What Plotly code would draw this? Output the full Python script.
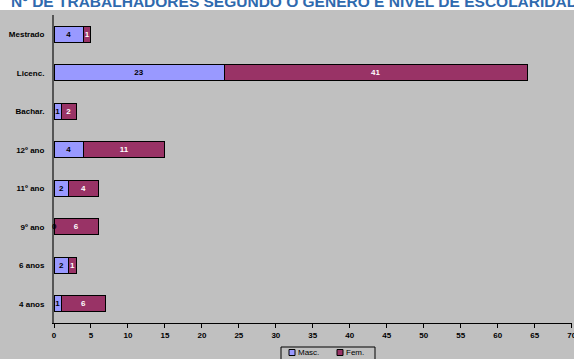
import plotly.graph_objects as go

# Education levels, listed bottom to top
levels = ["4 anos", "6 anos", "9º ano", "11º ano", "12º ano", "Bachar.", "Licenc.", "Mestrado"]
masc = [1, 2, 0, 2, 4, 1, 23, 4]
fem = [6, 1, 6, 4, 11, 2, 41, 1]
x_ticks = list(range(0, 75, 5))
series_names = ["Masc.", "Fem."]
series_colors = ["#9999FF", "#993366"]
label_colors = ["#000000", "#FFFFFF"]

FONT = "Liberation Sans, Arial, sans-serif"
W, H = 574, 359
ML, MR, MT, MB = 54, 2, 15, 36
PW, PH = W - ML - MR, H - MT - MB


def px_x(p):
    return (p - ML) / PW


def px_y(p):
    return (H - MB - p) / PH


fig = go.Figure()
for name, vals, col, tcol in zip(series_names, [masc, fem], series_colors, label_colors):
    fig.add_trace(go.Bar(
        y=levels, x=vals, orientation="h", name=name, showlegend=False,
        marker=dict(color=col, line=dict(color="#000000", width=1)),
        text=[str(v) if v else "" for v in vals], textposition="inside",
        insidetextanchor="middle", textangle=0, constraintext="none",
        textfont=dict(family=FONT, size=8, color=tcol, weight="bold"),
    ))

# zero-valued bars still get their label, sitting on the axis
for lvl, v in zip(levels, masc):
    if v == 0:
        fig.add_annotation(x=0, y=lvl, text=str(v), showarrow=False,
                           font=dict(family=FONT, size=8, color="#000000", weight="bold"))

fig.add_annotation(
    xref="paper", yref="paper", x=px_x(9), y=px_y(9), xanchor="left", yanchor="bottom",
    text="<b>Nº DE TRABALHADORES SEGUNDO O GÉNERO E NÍVEL DE ESCOLARIDADE</b>",
    showarrow=False, font=dict(family=FONT, size=15.5, color="#2F6AAE"),
    yshift=-3,
)

# grey chart area beneath the title strip
fig.add_shape(type="rect", xref="paper", yref="paper", layer="below",
              x0=px_x(0), x1=px_x(W), y0=px_y(H), y1=px_y(10),
              fillcolor="#C0C0C0", line=dict(width=0))

# compact legend box below the axis
fig.add_shape(type="rect", xref="paper", yref="paper", layer="above",
              x0=px_x(281), x1=px_x(375), y0=px_y(362), y1=px_y(347),
              fillcolor="#C0C0C0", line=dict(color="#000000", width=1))
for name, col, sx in zip(series_names, series_colors, [289, 337]):
    fig.add_shape(type="rect", xref="paper", yref="paper", layer="above",
                  x0=px_x(sx), x1=px_x(sx + 6), y0=px_y(355.5), y1=px_y(349.5),
                  fillcolor=col, line=dict(color="#000000", width=1))
    fig.add_annotation(xref="paper", yref="paper", x=px_x(sx + 7), y=px_y(352.5),
                       xanchor="left", yanchor="middle", text=name, showarrow=False,
                       font=dict(family=FONT, size=8, color="#000000"))

fig.update_layout(
    width=W, height=H,
    margin=dict(l=ML, r=MR, t=MT, b=MB, pad=0, autoexpand=False),
    barmode="stack", bargap=0.59,
    paper_bgcolor="#FFFFFF", plot_bgcolor="rgba(0,0,0,0)",
    font=dict(family=FONT, size=8, color="#000000"),
    showlegend=False,
)
fig.update_xaxes(
    range=[0, 70.05], tickvals=x_ticks, showgrid=False, zeroline=False,
    showline=True, linecolor="#000000", linewidth=1,
    ticks="outside", ticklen=4, tickcolor="#000000", ticklabeloverflow="allow",
    tickfont=dict(family=FONT, size=8, weight="bold"),
)
fig.update_yaxes(
    categoryorder="array", categoryarray=levels,
    showgrid=False, zeroline=False, showline=True, linecolor="#555555", linewidth=2,
    ticks="", ticklabelstandoff=6,
    tickfont=dict(family=FONT, size=8, weight="bold"),
)

fig.write_html("out.html")
